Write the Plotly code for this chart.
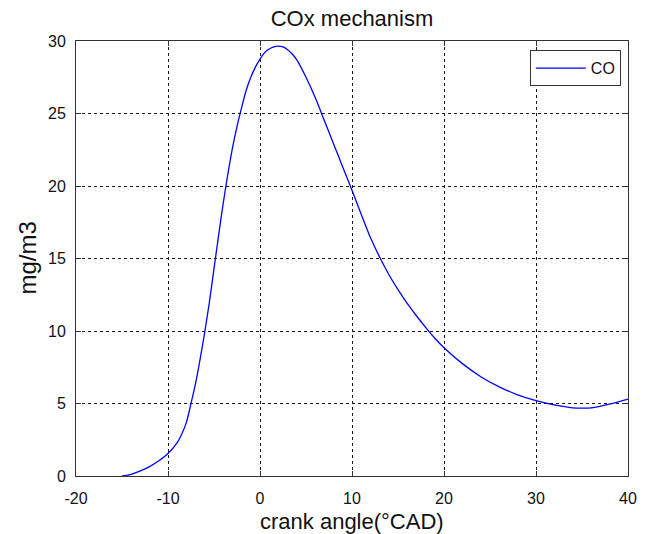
import plotly.graph_objects as go

# Data
crank_angle = [-15, -14, -13, -12, -11, -10, -9, -8.5, -8, -7.5, -7, -6.5, -6, -5.5, -5, -4.5,
               -4, -3.5, -3, -2.5, -2, -1.5, -1, -0.5, 0, 0.5, 1, 1.5, 2, 2.5, 3, 3.5,
               4, 5, 6, 7, 8, 9, 10, 11, 12, 13, 14, 15, 16, 17, 18, 19, 20, 22, 24,
               26, 28, 30, 32, 34, 35, 36, 38, 40]
co_values = [0.0, 0.12, 0.35, 0.65, 1.05, 1.55, 2.3, 2.9, 3.7, 5.0, 6.4, 8.1, 9.95, 12.0, 14.3, 16.6,
             18.8, 20.8, 22.6, 24.1, 25.4, 26.6, 27.5, 28.2, 28.75, 29.2, 29.45, 29.6, 29.65, 29.6, 29.4, 29.1,
             28.7, 27.5, 26.1, 24.5, 22.9, 21.3, 19.7, 18.05, 16.45, 15.1, 13.9, 12.85, 11.9, 11.05, 10.25, 9.5,
             8.85, 7.75, 6.85, 6.15, 5.6, 5.2, 4.9, 4.7, 4.68, 4.7, 4.95, 5.3]
x_ticks = [-20, -10, 0, 10, 20, 30, 40]
x_tick_labels = ["-20", "-10", "0", "10", "20", "30", "40"]
y_ticks = [0, 5, 10, 15, 20, 25, 30]
y_tick_labels = ["0", "5", "10", "15", "20", "25", "30"]

FONT = "Liberation Sans, Arial, Helvetica, sans-serif"
TXT = "#111111"

fig = go.Figure()
fig.add_trace(go.Scatter(x=crank_angle, y=co_values, mode="lines", name="CO",
                         line=dict(color="#0000ff", width=1.3, shape="spline", smoothing=0.8)))

axis_common = dict(
    showline=True, linecolor="#333333", linewidth=1, mirror="ticks",
    ticks="inside", ticklen=5, tickcolor="#333333",
    showgrid=True, gridcolor="#1a1a1a", gridwidth=1, griddash="3px,3px",
    zeroline=False, tickfont=dict(family=FONT, size=16, color=TXT),
)

fig.update_xaxes(range=[-20, 40], tickvals=x_ticks, ticktext=x_tick_labels,
                 ticklabelstandoff=8, **axis_common)
fig.update_yaxes(range=[0, 30], tickvals=y_ticks, ticktext=y_tick_labels,
                 ticklabelstandoff=6, **axis_common)

fig.update_layout(
    width=648, height=534,
    margin=dict(l=76, r=20, t=41, b=58),
    plot_bgcolor="white", paper_bgcolor="white",
    font=dict(family=FONT, color=TXT),
    title=dict(text="COx mechanism", x=0.5, xref="paper", y=1 - 18 / 534, yref="container",
               xanchor="center", yanchor="middle", font=dict(size=22, family=FONT, color=TXT)),
    showlegend=True,
    legend=dict(x=0.987, y=0.979, xanchor="right", yanchor="top",
                bgcolor="white", bordercolor="#333333", borderwidth=1,
                itemwidth=50, tracegroupgap=0,
                font=dict(size=16, family=FONT, color=TXT)),
    annotations=[
        dict(text="crank angle(°CAD)", xref="paper", yref="paper", x=0.5, y=(476 - 521) / 435,
             xanchor="center", yanchor="middle", showarrow=False,
             font=dict(size=22, family=FONT, color=TXT)),
        dict(text="mg/m3", xref="paper", yref="paper", x=(27 - 76) / 552, y=0.5,
             xanchor="center", yanchor="middle", textangle=-90, showarrow=False,
             font=dict(size=24, family=FONT, color=TXT)),
    ],
)

fig.write_html("out.html")
